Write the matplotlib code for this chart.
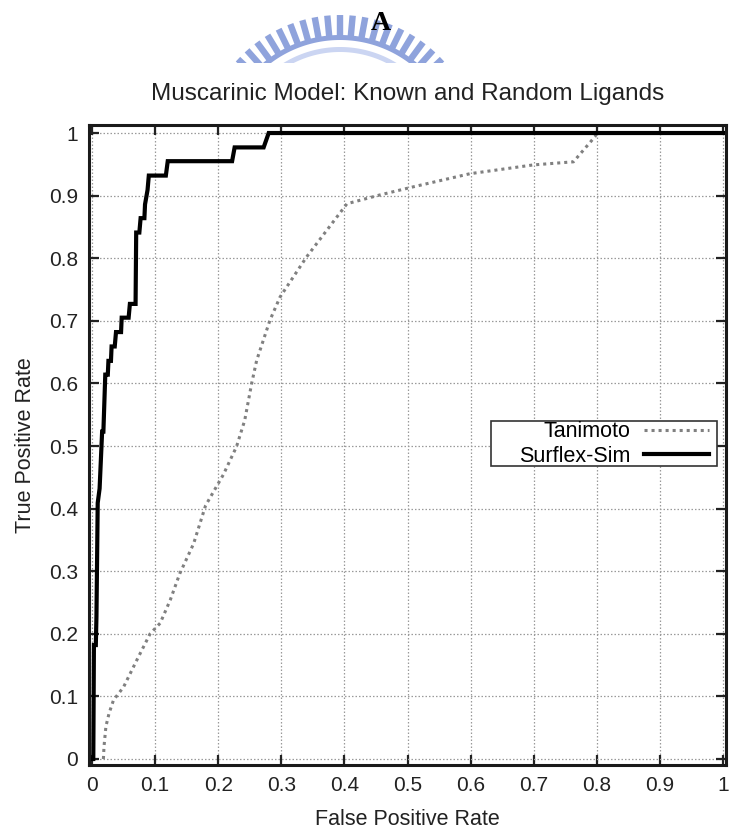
import numpy as np
import matplotlib
matplotlib.use("Agg")
import matplotlib.pyplot as plt
from matplotlib.patches import Polygon, Rectangle

plt.rcParams['font.family'] = ['Liberation Sans', 'DejaVu Sans']

# ROC curve of the Surflex-Sim model (staircase, 44 actives)
surflex_fpr = [0.000, 0.002, 0.003, 0.006, 0.007, 0.009, 0.012, 0.016, 0.018,
               0.021, 0.025, 0.026, 0.030, 0.031, 0.036, 0.038, 0.046, 0.047,
               0.058, 0.060, 0.069, 0.070, 0.075, 0.077, 0.083, 0.084, 0.088,
               0.090, 0.117, 0.120, 0.222, 0.226, 0.272, 0.280, 1.000]
surflex_tpr = [0.000, 0.000, 0.182, 0.182, 0.227, 0.409, 0.432, 0.523, 0.523,
               0.614, 0.614, 0.636, 0.636, 0.659, 0.659, 0.682, 0.682, 0.705,
               0.705, 0.727, 0.727, 0.841, 0.841, 0.864, 0.864, 0.886, 0.909,
               0.932, 0.932, 0.955, 0.955, 0.977, 0.977, 1.000, 1.000]

# ROC curve of the Tanimoto similarity baseline
tanimoto_fpr = [0.018, 0.019, 0.022, 0.027, 0.034, 0.050, 0.071, 0.092, 0.108,
                0.124, 0.139, 0.161, 0.180, 0.208, 0.229, 0.242, 0.253, 0.261,
                0.282, 0.298, 0.340, 0.404, 0.456, 0.509, 0.599, 0.699, 0.763,
                0.797, 0.800, 1.000]
tanimoto_tpr = [0.000, 0.020, 0.052, 0.073, 0.094, 0.115, 0.158, 0.200, 0.217,
                0.254, 0.296, 0.344, 0.405, 0.454, 0.499, 0.541, 0.600, 0.637,
                0.701, 0.738, 0.802, 0.887, 0.901, 0.914, 0.935, 0.949, 0.954,
                0.994, 1.000, 1.000]

ticks = np.round(np.arange(0, 1.01, 0.1), 1)
tick_labels = ['0' if t == 0 else ('1' if t == 1 else f'{t:.1f}') for t in ticks]

W, H = 732, 832
fig = plt.figure(figsize=(W / 100, H / 100), dpi=100)

# ---- emblem arc and panel letter at the top of the page ----
band_h = 63
axw = fig.add_axes([0, 1 - band_h / H, 1, band_h / H])
axw.set_xlim(0, W)
axw.set_ylim(band_h, 0)
axw.axis('off')
cx, cy = 340, 155
blue = '#8fa3dc'
for ang in np.arange(-57.2, 58, 5.2):
    th = np.deg2rad(ang)
    hw = 3.2
    pts = []
    for r, s in [(118, -1), (140, -1), (140, 1), (118, 1)]:
        dth = s * hw / r
        pts.append((cx + r * np.sin(th + dth), cy - r * np.cos(th + dth)))
    axw.add_patch(Polygon(pts, closed=True, facecolor=blue, edgecolor='none'))
for r0, r1, col in [(115, 120, blue), (103, 108, '#cbd5f2')]:
    t = np.deg2rad(np.linspace(-62, 62, 200))
    xs = np.concatenate([cx + r1 * np.sin(t), cx + r0 * np.sin(t[::-1])])
    ys = np.concatenate([cy - r1 * np.cos(t), cy - r0 * np.cos(t[::-1])])
    axw.add_patch(Polygon(np.column_stack([xs, ys]), closed=True,
                          facecolor=col, edgecolor='none'))

fig.text(381 / W, 1 - 24 / H, 'A', family='Liberation Serif', weight='bold',
         fontsize=20, ha='center', va='center', color='black')

# ---- ROC axes ----
ax = fig.add_axes([89 / W, 1 - 765 / H, (726 - 89) / W, (765 - 125) / H])
ax.set_xlim(-0.0048, 1.0048)
ax.set_ylim(-0.0096, 1.0128)

ax.set_xticks(ticks)
ax.set_xticklabels(tick_labels)
ax.set_yticks(ticks)
ax.set_yticklabels(tick_labels)
ax.tick_params(direction='in', length=7, width=1.6, top=True, right=True,
               labelsize=15, colors='#222222', pad=8)
ax.grid(True, color='#9a9a9a', linestyle=(0, (1.2, 1.6)), linewidth=0.9)
ax.set_axisbelow(True)
for sp in ax.spines.values():
    sp.set_linewidth(2.2)
    sp.set_color('#1a1a1a')

ax.plot(tanimoto_fpr, tanimoto_tpr, color='#808080', linewidth=2.2,
        linestyle=(0, (1.0, 1.3)), label='Tanimoto')
ax.plot(surflex_fpr, surflex_tpr, color='black', linewidth=3.0,
        label='Surflex-Sim', solid_joinstyle='miter')

ax.set_xlabel('False Positive Rate', fontsize=15.5, color='#222222', labelpad=10)
ax.set_ylabel('True Positive Rate', fontsize=15.5, color='#222222', labelpad=9)
ax.set_title('Muscarinic Model: Known and Random Ligands', fontsize=17.5,
             color='#222222', pad=18)

# key box (gnuplot style: wide box, labels right-aligned before samples)
ax.add_patch(Rectangle((0.631, 0.4665), 0.355, 0.0703,
                       transform=ax.transAxes, facecolor='white',
                       edgecolor='#333333', linewidth=1.2, zorder=4))
leg = ax.legend(loc='center right', bbox_to_anchor=(0.973, 0.5015),
                markerfirst=False, frameon=False, fontsize=15.5,
                handlelength=3.0, borderpad=0.0, labelspacing=0.15,
                handletextpad=0.62, borderaxespad=0.0)
leg.set_zorder(5)

fig.savefig('out.png', dpi=100, facecolor='white')
